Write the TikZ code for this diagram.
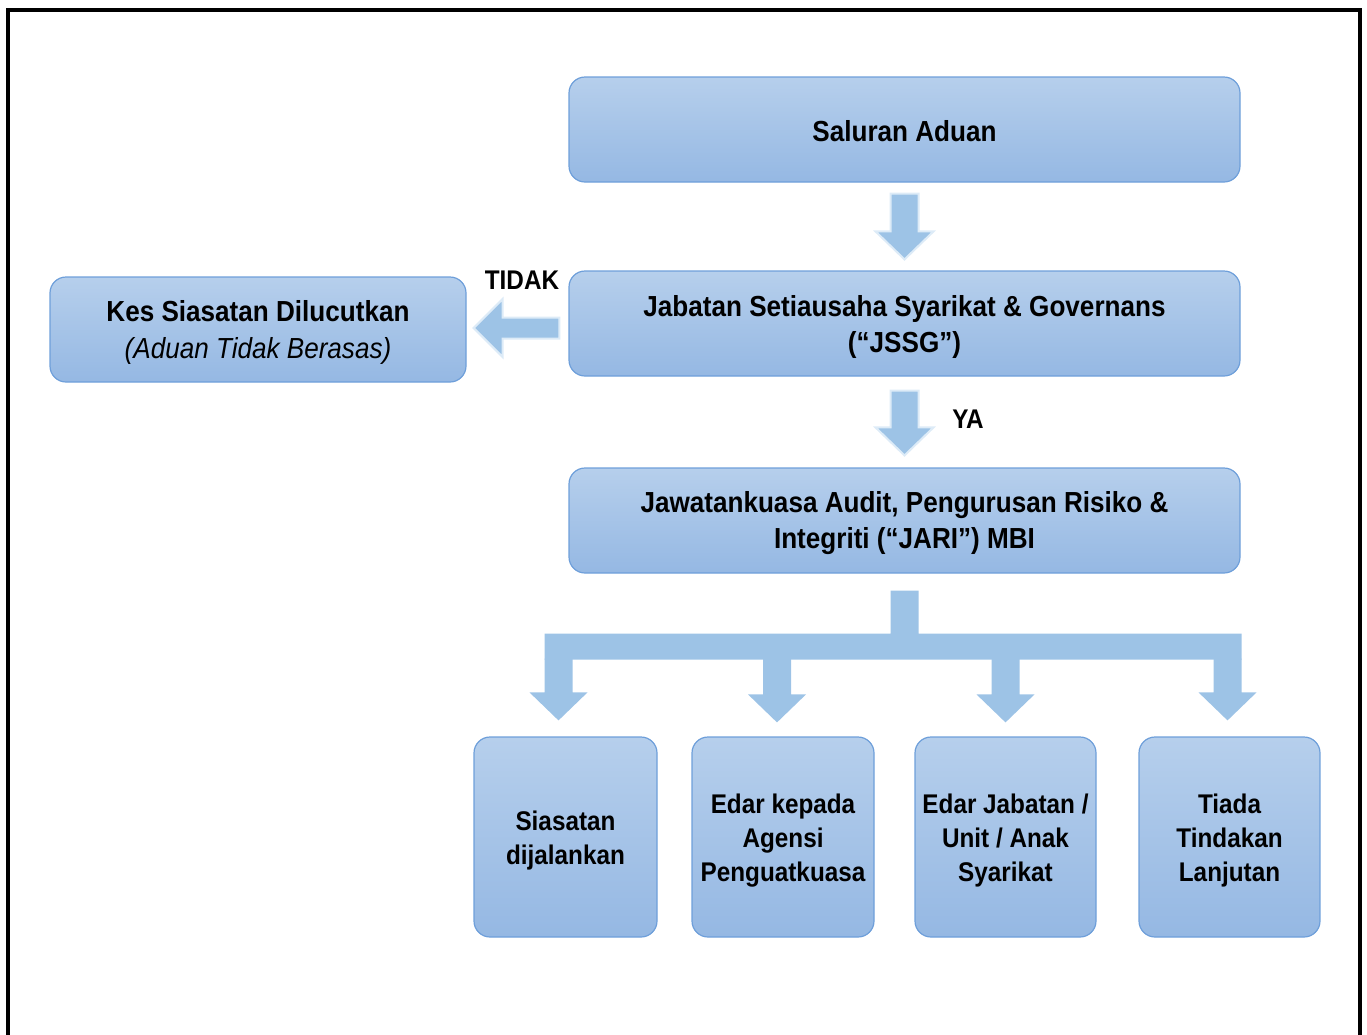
\documentclass[tikz,border=0pt]{standalone}
\usepackage{fontspec}
\setmainfont{Liberation Sans}[FakeStretch=0.9]
\usetikzlibrary{calc}
\definecolor{boxtop}{HTML}{B6CFEC}
\definecolor{boxbot}{HTML}{95B8E3}
\definecolor{boxline}{HTML}{6E9FDA}
\definecolor{arrfill}{HTML}{9DC3E6}
\definecolor{arrline}{HTML}{DDEBF7}
\tikzset{
  flowbox/.style={draw=boxline, line width=1.2pt, top color=boxtop, bottom color=boxbot,
    rounded corners=16pt, inner sep=0pt},
  boxtext/.style={align=center, inner sep=0pt, font=\bfseries\fontsize{29}{36}\selectfont},
  smalltext/.style={boxtext, font=\bfseries\fontsize{27}{34}\selectfont},
  blockarrow/.style={fill=arrfill, draw=arrline, line width=2pt, line join=miter},
  flatarrow/.style={fill=arrfill, draw=none},
  lbl/.style={font=\bfseries\fontsize{27}{34}\selectfont, inner sep=0pt}
}
\newcommand\downblock[3]{% #1 top, #2 tip, #3 style
  \path[#3] let \p1=(#1), \p2=(#2) in
   (\x2-14pt,\y1) -- (\x2+14pt,\y1) -- (\x2+14pt,\y2+28pt) -- (\x2+29pt,\y2+28pt)
   -- (\x2,\y2) -- (\x2-29pt,\y2+28pt) -- (\x2-14pt,\y2+28pt) -- cycle;}
\begin{document}
\begin{tikzpicture}[x=1pt,y=-1pt]
\useasboundingbox (0,0) rectangle (1367,1034);
\begin{scope}
\clip (0,0) rectangle (1367,1034);
\draw[line width=4pt] (8,10) rectangle (1360,1100);
\end{scope}

\node[flowbox, minimum width=671, minimum height=105] (sal) at (904.5,129.5) {};
\node[flowbox, minimum width=671, minimum height=105] (jssg) at (904.5,323.5) {};
\node[flowbox, minimum width=671, minimum height=105] (jari) at (904.5,520.5) {};
\node[flowbox, minimum width=416, minimum height=105] (kes) at (258,329.5) {};
\node[flowbox, minimum width=183, minimum height=200] (b1) at (565.5,837) {};
\node[flowbox, minimum width=182, minimum height=200] (b2) at (783,837) {};
\node[flowbox, minimum width=181, minimum height=200] (b3) at (1005.5,837) {};
\node[flowbox, minimum width=181, minimum height=200] (b4) at (1229.5,837) {};

\node[boxtext] (salt) at ($(sal.center)+(0,2)$) {Saluran Aduan};
\node[boxtext] (jssgt) at ($(jssg.center)+(0,3)$) {Jabatan Setiausaha Syarikat \& Governans\\(“JSSG”)};
\node[boxtext] (jarit) at ($(jari.center)+(0,3)$) {Jawatankuasa Audit, Pengurusan Risiko \&\\Integriti (“JARI”) MBI};
\node[boxtext, font=\bfseries\fontsize{29}{37}\selectfont] (kest) at ($(kes.center)+(0,3)$)
  {Kes Siasatan Dilucutkan\\{\mdseries\itshape (Aduan Tidak Berasas)}};
\node[smalltext] (b1t) at ($(b1.center)+(0,4)$) {Siasatan\\dijalankan};
\node[smalltext] (b2t) at ($(b2.center)+(0,4)$) {Edar kepada\\Agensi\\Penguatkuasa};
\node[smalltext] (b3t) at ($(b3.center)+(0,4)$) {Edar Jabatan /\\Unit / Anak\\Syarikat};
\node[smalltext] (b4t) at ($(b4.center)+(0,4)$) {Tiada\\Tindakan\\Lanjutan};

\node[lbl] (tidak) at (522,280) {TIDAK};
\node[lbl] (ya) at (968,419) {YA};

% vertical block arrows
\downblock{$(sal.south)+(0,11)$}{$(jssg.north)+(0,-11)$}{blockarrow}
\downblock{$(jssg.south)+(0,14)$}{$(jari.north)+(0,-12)$}{blockarrow}

% left block arrow
\coordinate (ls) at ($(jssg.west)+(-9,4.5)$);
\coordinate (lt) at ($(kes.east)+(7,-1.5)$);
\path[blockarrow] let \p1=(ls), \p2=(lt) in
  (\x1,\y2+10.5pt) -- (\x2+29pt,\y2+10.5pt) -- (\x2+29pt,\y2+29pt) -- (\x2,\y2)
  -- (\x2+29pt,\y2-29pt) -- (\x2+29pt,\y2-10.5pt) -- (\x1,\y2-10.5pt) -- cycle;

% branching arrows
\coordinate (stem) at ($(jari.south)+(0,17)$);
\coordinate (t1) at ($(b1.north)+(-7,-16)$);
\coordinate (t2) at ($(b2.north)+(-6,-14)$);
\coordinate (t3) at ($(b3.north)+(0,-14)$);
\coordinate (t4) at ($(b4.north)+(-2,-16)$);
\path[flatarrow] let \p1=(stem), \p2=(t1), \p3=(t4) in
  (\x1-14pt,\y1) rectangle (\x1+14pt,\y1-44pt)
  (\x2-14pt,\y1-43pt) rectangle (\x3+14pt,\y1-69pt);
\downblock{$(t1|-stem)+(0,68)$}{t1}{flatarrow}
\downblock{$(t2|-stem)+(0,68)$}{t2}{flatarrow}
\downblock{$(t3|-stem)+(0,68)$}{t3}{flatarrow}
\downblock{$(t4|-stem)+(0,68)$}{t4}{flatarrow}
\end{tikzpicture}
\end{document}
